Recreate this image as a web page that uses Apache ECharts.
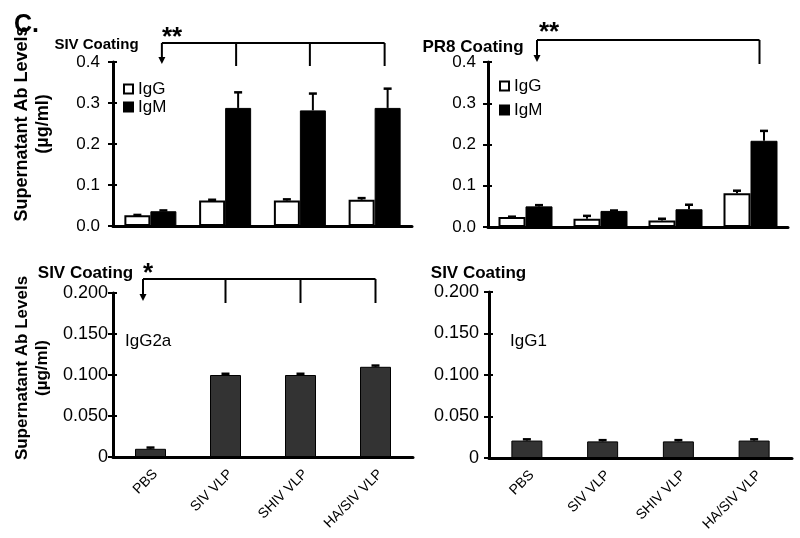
<!DOCTYPE html>
<html><head><meta charset="utf-8">
<script src="https://cdn.jsdelivr.net/npm/echarts@6/dist/echarts.min.js"></script>
<style>html,body{margin:0;padding:0;background:#fff}#c{width:800px;height:538px}</style>
</head><body><div id="c"></div>
<script>
// ---- data ----
const categories = ['PBS', 'SIV VLP', 'SHIV VLP', 'HA/SIV VLP'];
const sivIgG = [0.026, 0.062, 0.062, 0.064];
const sivIgGErr = [0.001, 0.002, 0.003, 0.004];
const sivIgM = [0.036, 0.288, 0.282, 0.288];
const sivIgMErr = [0.002, 0.038, 0.041, 0.047];
const pr8IgG = [0.024, 0.020, 0.016, 0.082];
const pr8IgGErr = [0.001, 0.007, 0.004, 0.006];
const pr8IgM = [0.050, 0.039, 0.043, 0.209];
const pr8IgMErr = [0.003, 0.001, 0.011, 0.024];
const igg2a = [0.010, 0.100, 0.100, 0.110];
const igg2aErr = [0.0015, 0.0015, 0.0015, 0.0015];
const igg1 = [0.021, 0.020, 0.020, 0.021];
const igg1Err = [0.0015, 0.0015, 0.0015, 0.0015];
const topTicks = ['0.0', '0.1', '0.2', '0.3', '0.4'];
const bottomTicks = ['0', '0.050', '0.100', '0.150', '0.200'];
const panelTitles = ['SIV Coating', 'PR8 Coating', 'SIV Coating', 'SIV Coating'];
const isotypeLabels = ['IgG2a', 'IgG1'];
const yTitle = 'Supernatant Ab Levels\n(\u00b5g/ml)';
const sigTop = ['**', '**', '*'];

// ---- layout ----
const FONT = 'Liberation Sans, Arial, sans-serif';
const grids = [
  {left: 113, top: 62, width: 299, height: 164},
  {left: 488, top: 62, width: 300, height: 165},
  {left: 113, top: 293, width: 300, height: 164},
  {left: 489, top: 292, width: 303, height: 166}
];
const chart = echarts.init(document.getElementById('c'), null, {renderer: 'canvas'});

function xAxis(i) {
  return {
    type: 'category', gridIndex: i, data: categories,
    axisLine: {lineStyle: {color: '#000', width: 3}},
    axisTick: {inside: true, length: 4, lineStyle: {color: '#000', width: 2}},
    axisLabel: i >= 2 ? {
      show: true, rotate: 45, interval: 0, color: '#000', fontFamily: FONT, fontSize: 14,
      margin: 10, verticalAlign: 'top', align: 'right'
    } : {show: false},
    splitLine: {show: false}
  };
}
function yAxisMain(i, margin) {
  const top = i < 2;
  const ticks = top ? topTicks : bottomTicks;
  const step = top ? 0.1 : 0.05;
  return {
    type: 'value', gridIndex: i, min: 0, max: top ? 0.4 : 0.2, interval: step, position: 'left',
    axisLine: {show: true, lineStyle: {color: '#000', width: 3}},
    axisTick: {show: true, inside: false, length: 5, lineStyle: {color: '#000', width: 2}},
    axisLabel: {color: '#000', fontFamily: FONT, fontSize: top ? 17 : 18, margin: margin,
      formatter: v => ticks[Math.round(v / step)]},
    splitLine: {show: false}
  };
}
function yAxisOverlay(i) {
  const top = i < 2;
  return {
    type: 'value', gridIndex: i, min: 0, max: top ? 0.4 : 0.2, interval: top ? 0.1 : 0.05,
    position: 'left', offset: 0,
    axisLine: {show: false}, axisLabel: {show: false}, splitLine: {show: false},
    axisTick: {show: true, inside: true, length: 4, lineStyle: {color: '#000', width: 2}}
  };
}
function errSeries(i, vals, errs, dx) {
  return {
    type: 'custom', xAxisIndex: i, yAxisIndex: i, z: 5, silent: true,
    data: vals.map((v, k) => [k, v, errs[k]]),
    renderItem: (params, api) => {
      const base = api.coord([api.value(0), api.value(1)]);
      const top = api.coord([api.value(0), api.value(1) + api.value(2)]);
      const x = base[0] + dx;
      return {type: 'group', children: [
        {type: 'line', shape: {x1: x, y1: base[1], x2: x, y2: top[1]}, style: {stroke: '#000', lineWidth: 2}},
        {type: 'line', shape: {x1: x - 4, y1: top[1], x2: x + 4, y2: top[1]}, style: {stroke: '#000', lineWidth: 2.5}}
      ]};
    }
  };
}
function pairBars(i, g, m, w) {
  return [
    {name: 'IgG', type: 'bar', xAxisIndex: i, yAxisIndex: i, data: g, barWidth: w, barGap: '0%',
      itemStyle: {color: '#fff', borderColor: '#000', borderWidth: 2}},
    {name: 'IgM', type: 'bar', xAxisIndex: i, yAxisIndex: i, data: m, barWidth: w, barGap: '0%',
      itemStyle: {color: '#000', borderColor: '#000', borderWidth: 1}}
  ];
}
function singleBars(i, d, w) {
  return {name: 'b' + i, type: 'bar', xAxisIndex: i, yAxisIndex: i, data: d, barWidth: w,
    itemStyle: {color: '#333', borderColor: '#000', borderWidth: 1}};
}

const series = [].concat(
  pairBars(0, sivIgG, sivIgM, 26),
  [errSeries(0, sivIgG, sivIgGErr, -13), errSeries(0, sivIgM, sivIgMErr, 13)],
  pairBars(1, pr8IgG, pr8IgM, 27),
  [errSeries(1, pr8IgG, pr8IgGErr, -13.5), errSeries(1, pr8IgM, pr8IgMErr, 13.5)],
  [singleBars(2, igg2a, 31), errSeries(2, igg2a, igg2aErr, 0)],
  [singleBars(3, igg1, 31), errSeries(3, igg1, igg1Err, 0)]
);

const legendCommon = {orient: 'vertical', icon: 'rect', itemWidth: 9, itemHeight: 9, padding: 0,
  selectedMode: false, data: ['IgG', 'IgM'],
  textStyle: {fontFamily: FONT, fontSize: 17, color: '#000', lineHeight: 18}};

chart.setOption({
  animation: false,
  backgroundColor: '#fff',
  textStyle: {fontFamily: FONT},
  grid: grids,
  xAxis: [0, 1, 2, 3].map(xAxis),
  yAxis: [yAxisMain(0, 13), yAxisMain(1, 12), yAxisMain(2, 5), yAxisMain(3, 10),
          yAxisOverlay(0), yAxisOverlay(1), yAxisOverlay(2), yAxisOverlay(3)],
  legend: [
    Object.assign({left: 123, top: 80, itemGap: 0}, legendCommon),
    Object.assign({left: 499, top: 77, itemGap: 6}, legendCommon)
  ],
  series: series
});

// ---- annotations ----
function px(i, cat, v) { return chart.convertToPixel({xAxisIndex: i, yAxisIndex: i}, [cat, v]); }
const g = [];
function txt(x, y, s, size, bold, align, rot) {
  g.push({type: 'text', x: x, y: y, rotation: rot || 0, z: 10,
    style: {text: s, fontFamily: FONT, fontSize: size, fontWeight: bold ? 'bold' : 'normal',
      fill: '#000', align: align || 'left', verticalAlign: 'middle', lineHeight: 21}});
}
function line(x1, y1, x2, y2) {
  g.push({type: 'line', z: 10, shape: {x1, y1, x2, y2}, style: {stroke: '#000', lineWidth: 2}});
}
function bracket(i, arrowDx, catDx, lineOff, endOff, star, starDx, starY) {
  const top = grids[i].top;
  const yLine = top + lineOff, yEnd = top + endOff;
  const xs = categories.map((c, k) => px(i, k, 0)[0] + (k === 0 ? arrowDx : (catDx[k] || 0)));
  const used = catDx.map((d, k) => d === null ? null : xs[k]).filter(v => v !== null);
  const xRight = used[used.length - 1];
  line(xs[0], yLine, xRight, yLine);
  line(xs[0], yLine, xs[0], yEnd - 6);
  g.push({type: 'polygon', z: 10, shape: {points: [[xs[0] - 3.5, yEnd - 7], [xs[0] + 3.5, yEnd - 7], [xs[0], yEnd]]},
    style: {fill: '#000'}});
  catDx.forEach((d, k) => { if (k > 0 && d !== null) line(xs[k], yLine, xs[k], yEnd + 2); });
  txt(xs[0] + starDx, starY, star, 26, true, 'left');
}
bracket(0, 11.5, [0, 11, 10, 10], -19, 2, sigTop[0], 0, 38);
bracket(1, 11.5, [0, null, null, 9], -22, 0, sigTop[1], 2, 33);
bracket(2, -7.5, [0, 0, 0, 0], -14, 8, sigTop[2], 0, 274);

txt(14, 25, 'C.', 25, true, 'left');
txt(96.5, 45, panelTitles[0], 15, true, 'center');
txt(473, 47, panelTitles[1], 17, true, 'center');
txt(85.5, 273, panelTitles[2], 17, true, 'center');
txt(478.5, 273, panelTitles[3], 17, true, 'center');
txt(125, 341, isotypeLabels[0], 17, false, 'left');
txt(510, 341, isotypeLabels[1], 17, false, 'left');
g.push({type: 'text', x: 32.5, y: 124, rotation: Math.PI / 2, z: 10,
  style: {text: yTitle, fontFamily: FONT, fontSize: 18, fontWeight: 'bold', fill: '#000',
    align: 'center', verticalAlign: 'middle', lineHeight: 21}});
g.push({type: 'text', x: 32.5, y: 368, rotation: Math.PI / 2, z: 10,
  style: {text: yTitle, fontFamily: FONT, fontSize: 17, fontWeight: 'bold', fill: '#000',
    align: 'center', verticalAlign: 'middle', lineHeight: 20}});
chart.setOption({graphic: g});
</script></body></html>
